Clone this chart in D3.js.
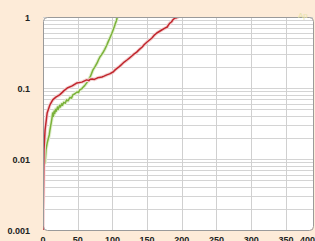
<!DOCTYPE html>
<html>
<head>
<meta charset="utf-8">
<script src="https://cdn.jsdelivr.net/npm/d3@7"></script>
<style>
  html, body { margin: 0; padding: 0; background: #fdebd8; overflow: hidden; }
  svg { display: block; }
</style>
</head>
<body>
<script>
const width = 315, height = 241;

// Données (x, valeur)
const redX = [0, 1.4, 3, 6, 10, 14, 19, 24, 30, 35, 42, 49, 56, 63, 66, 68, 71, 74, 78, 81, 85, 88, 92, 96, 101, 104, 107, 110, 114, 117, 121, 124, 128, 131, 135, 139, 143, 146, 150, 153, 157, 160, 164, 167, 171, 175, 179, 181, 183, 185, 187, 190, 192, 195];
const redY = [0.001, 0.0134, 0.0256, 0.0445, 0.058, 0.068, 0.075, 0.08, 0.091, 0.1, 0.107, 0.118, 0.121, 0.13, 0.127, 0.133, 0.134, 0.132, 0.138, 0.141, 0.143, 0.147, 0.153, 0.158, 0.168, 0.18, 0.19, 0.2, 0.218, 0.232, 0.248, 0.262, 0.282, 0.3, 0.32, 0.35, 0.378, 0.41, 0.445, 0.47, 0.506, 0.55, 0.595, 0.62, 0.656, 0.69, 0.723, 0.78, 0.823, 0.85, 0.907, 0.968, 0.97, 1];

const greenX = [0, 1.4, 3, 4.3, 6, 9, 10, 12, 13, 14, 15, 16, 17, 18, 19, 21, 22, 24, 25, 27, 28, 30, 32, 34, 36, 39, 41, 43, 46, 49, 51, 53, 56, 58, 60, 63, 65, 68, 70, 72, 75, 78, 80, 82, 84, 86, 89, 92, 94, 97, 99, 101, 103, 104, 106, 107];
const greenY = [0.0134, 0.0104, 0.0088, 0.0134, 0.0168, 0.0218, 0.0256, 0.033, 0.038, 0.0445, 0.040, 0.047, 0.044, 0.050, 0.047, 0.054, 0.050, 0.057, 0.054, 0.060, 0.057, 0.063, 0.061, 0.068, 0.066, 0.074, 0.072, 0.080, 0.083, 0.088, 0.086, 0.094, 0.098, 0.103, 0.108, 0.118, 0.128, 0.143, 0.16, 0.18, 0.2, 0.225, 0.25, 0.273, 0.29, 0.311, 0.35, 0.403, 0.45, 0.523, 0.58, 0.656, 0.74, 0.797, 0.9, 1];

const xTicks = [0, 50, 100, 150, 200, 250, 300, 350, 400];
const yTicks = [1, 0.1, 0.01, 0.001];

const pLeft = 43, pTop = 17, pBottom = 230, pRight = 313;

const svg = d3.select("body").append("svg")
  .attr("width", width)
  .attr("height", height)
  .style("font-family", "Liberation Sans, Arial, sans-serif");

const x = d3.scaleLinear().domain([0, 400]).range([pLeft, pLeft + 400 * 0.694]);
const y = d3.scaleLog().domain([0.001, 1]).range([pBottom, pTop]);

// Fond du graphique
svg.append("rect")
  .attr("x", pLeft).attr("y", pTop)
  .attr("width", pRight - pLeft).attr("height", pBottom - pTop)
  .attr("rx", 4)
  .attr("fill", "#fff");

svg.append("defs").append("clipPath").attr("id", "clip")
  .append("rect")
  .attr("x", pLeft).attr("y", pTop)
  .attr("width", pRight - pLeft).attr("height", pBottom - pTop);

const grid = svg.append("g").attr("clip-path", "url(#clip)");

// Grille horizontale (log)
const minor = [];
[0.001, 0.01, 0.1].forEach(d => {
  for (let k = 1; k <= 9; k++) minor.push(d * k);
});
minor.push(1);
grid.selectAll("line.h")
  .data(minor)
  .join("line")
  .attr("x1", pLeft).attr("x2", pRight)
  .attr("y1", d => Math.round(y(d)) + 0.5)
  .attr("y2", d => Math.round(y(d)) + 0.5)
  .attr("stroke", "#d4d4d4")
  .attr("stroke-width", 1);

// Grille verticale
grid.selectAll("line.v")
  .data(xTicks.slice(1))
  .join("line")
  .attr("x1", d => Math.round(x(d)) + 0.5)
  .attr("x2", d => Math.round(x(d)) + 0.5)
  .attr("y1", pTop).attr("y2", pBottom)
  .attr("stroke", "#d0d0d0")
  .attr("stroke-width", 1);

// Courbes
const line = d3.line()
  .x(d => x(d[0]))
  .y(d => y(d[1]));

const series = [
  { xs: greenX, ys: greenY, color: "#7bb23a", halo: "#e3efd2" },
  { xs: redX, ys: redY, color: "#c0262d", halo: "#f4d4d4" }
];

series.forEach(s => {
  const pts = s.xs.map((v, i) => [v, s.ys[i]]);
  grid.append("path")
    .datum(pts)
    .attr("d", line)
    .attr("fill", "none")
    .attr("stroke", s.halo)
    .attr("stroke-width", 3.5)
    .attr("stroke-linejoin", "round");
  grid.append("path")
    .datum(pts)
    .attr("d", line)
    .attr("fill", "none")
    .attr("stroke", s.color)
    .attr("stroke-width", 1.5)
    .attr("stroke-linejoin", "round");
});

// Bordure
svg.append("rect")
  .attr("x", pLeft + 0.5).attr("y", pTop + 0.5)
  .attr("width", pRight - pLeft).attr("height", pBottom - pTop)
  .attr("rx", 4)
  .attr("fill", "none")
  .attr("stroke", "#9a9a9a")
  .attr("stroke-width", 1);

// Légende (coupée)
svg.append("text")
  .attr("x", 298).attr("y", 18)
  .attr("font-size", 8)
  .attr("fill", "#e6e3a8")
  .text("Ap");

// Axe Y
svg.selectAll("text.ytick")
  .data(yTicks)
  .join("text")
  .attr("x", 30)
  .attr("y", d => y(d) + 3.5)
  .attr("text-anchor", "end")
  .attr("font-size", 9)
  .attr("font-weight", "bold")
  .attr("fill", "#222")
  .text(d => d3.format("")(d));

// Axe X
svg.selectAll("text.xtick")
  .data(xTicks)
  .join("text")
  .attr("x", (d, i) => i === xTicks.length - 1 ? pRight + 2 : x(d))
  .attr("y", 243)
  .attr("text-anchor", (d, i) => i === xTicks.length - 1 ? "end" : "middle")
  .attr("font-size", 9)
  .attr("font-weight", "bold")
  .attr("fill", "#222")
  .text(d => d);
</script>
</body>
</html>
